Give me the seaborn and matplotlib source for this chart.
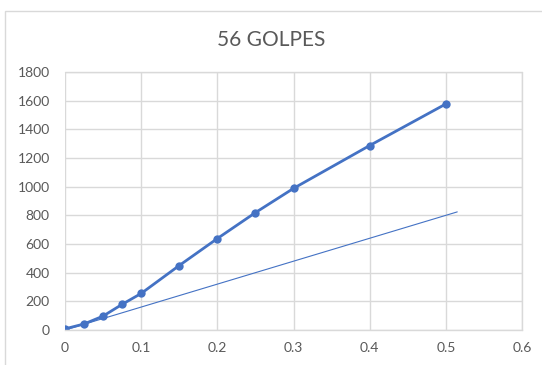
import matplotlib
matplotlib.use("Agg")
import matplotlib.pyplot as plt
import seaborn as sns
import pandas as pd
from matplotlib.patches import Rectangle

# Measured series: displacement vs load, 56 blows
deformacion = [0, 0.025, 0.05, 0.075, 0.1, 0.15, 0.2, 0.25, 0.3, 0.4, 0.5]
carga = [8, 42, 97, 179, 255, 450, 638, 819, 988, 1287, 1577]

# Reference straight line through the origin
recta_x = [0, 0.515]
recta_y = [0, 824]

x_ticks = [0, 0.1, 0.2, 0.3, 0.4, 0.5, 0.6]
x_labels = ["0", "0.1", "0.2", "0.3", "0.4", "0.5", "0.6"]
y_ticks = [0, 200, 400, 600, 800, 1000, 1200, 1400, 1600, 1800]

sns.set_theme(style="whitegrid")
plt.rcParams["font.family"] = ["Lato", "DejaVu Sans"]

azul = "#4472C4"
gris_texto = "#595959"
gris_rejilla = "#D9D9D9"

fig = plt.figure(figsize=(5.42, 3.65), dpi=100)
ax = fig.add_axes([65 / 542, 1 - 330 / 365, (522 - 65) / 542, (330 - 72) / 365])

df = pd.DataFrame({"x": deformacion, "y": carga})
df_recta = pd.DataFrame({"x": recta_x, "y": recta_y})

sns.lineplot(data=df_recta, x="x", y="y", ax=ax, color=azul, linewidth=0.8)
sns.lineplot(data=df, x="x", y="y", ax=ax, color=azul, linewidth=2.0,
             marker="o", markersize=6, markeredgewidth=0, markeredgecolor=azul)

ax.set_xlim(0, 0.6)
ax.set_ylim(0, 1800)
ax.set_xticks(x_ticks)
ax.set_xticklabels(x_labels)
ax.set_yticks(y_ticks)
ax.set_xlabel("")
ax.set_ylabel("")

ax.grid(True, color=gris_rejilla, linewidth=1.0)
for lado in ["top", "right", "left"]:
    ax.spines[lado].set_visible(False)
ax.spines["bottom"].set_visible(True)
ax.spines["bottom"].set_color(gris_rejilla)
ax.spines["bottom"].set_linewidth(1.0)
ax.set_facecolor("white")
ax.tick_params(axis="both", colors=gris_texto, labelsize=10, length=0)
ax.tick_params(axis="y", pad=11)
ax.tick_params(axis="x", pad=9)
for lbl in ax.get_xticklabels() + ax.get_yticklabels():
    lbl.set_color(gris_texto)

# Right and top edge gridlines
ax.axvline(0.6, color=gris_rejilla, linewidth=1.0, clip_on=False, zorder=0)
ax.axhline(1800, color=gris_rejilla, linewidth=1.0, clip_on=False, zorder=0)

fig.text(0.5, 1 - 40 / 365, "56 GOLPES", ha="center", va="center",
         fontsize=15, color=gris_texto)

# Chart area border
fig.patches.append(Rectangle((5 / 542, -0.05), 1.0, 1 - 11 / 365 + 0.05,
                             transform=fig.transFigure, fill=False,
                             edgecolor=gris_rejilla, linewidth=1.0))

fig.savefig("out.png", dpi=100, facecolor="white")
